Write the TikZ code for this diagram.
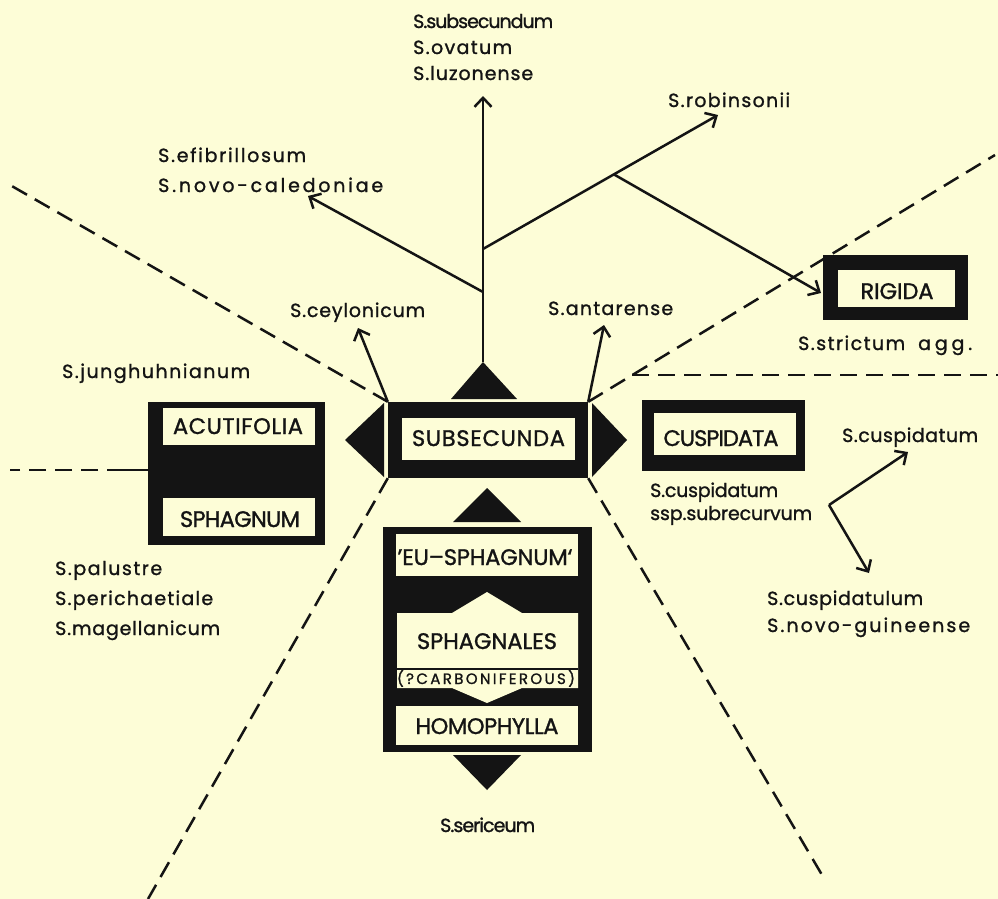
\documentclass[tikz,border=0pt]{standalone}
\usepackage{fontspec}
\setmainfont{Poppins}[FakeBold=1.2]
\usetikzlibrary{arrows.meta,calc}
\definecolor{bg}{HTML}{FDFDD7}
\definecolor{ink}{HTML}{141414}
\newlength\natw
\makeatletter
\newcommand\fit[3]{\settowidth\natw{#3}\pgfmathsetmacro\lsv{((#1)-\natw)/((#2)-1)/\f@size*100}\edef\tmpff{\noexpand\addfontfeatures{LetterSpace=\lsv}}{\tmpff#3}}
\makeatother
\tikzset{
  lab/.style={font=\fontsize{19}{21}\selectfont, inner sep=0pt, anchor=base west, text=ink},
  boxt/.style={font=\fontsize{22.5}{24}\selectfont, inner sep=0pt, anchor=base, text=ink},
  smallt/.style={font=\fontsize{15}{17}\selectfont, inner sep=0pt, anchor=base, text=ink},
  ln/.style={line width=2.5pt, draw=ink},
  arr/.style={line width=2.5pt, draw=ink, -{Straight Barb[length=9pt,width=17pt]}},
  dsh/.style={line width=2.5pt, draw=ink, dash pattern=on 17pt off 9pt},
  blk/.style={fill=ink, draw=none, inner sep=0pt},
  wht/.style={fill=bg, draw=none, inner sep=0pt},
}
\begin{document}
\begin{tikzpicture}[x=1pt,y=-1pt]
\useasboundingbox (0,0) rectangle (998,899);
\fill[bg] (0,0) rectangle (998,899);

% ---------- SUBSECUNDA ----------
\node[blk, minimum width=200pt, minimum height=76pt] (sub) at (488,440) {};
\node[wht, minimum width=173pt, minimum height=42pt] (subin) at (488.5,439) {};
\node[boxt] (subt) at (488.5,446) {\fit{153}{10}{SUBSECUNDA}};
\fill[ink] (345,440) -- (384,403) -- (384,477) -- cycle;
\fill[ink] (592,403) -- (627,440) -- (592,477) -- cycle;
\fill[ink] (451,399) -- (483,362) -- (517,399) -- cycle;
\fill[ink] (453,522) -- (487,488) -- (521,522) -- cycle;

% ---------- ACUTIFOLIA / SPHAGNUM ----------
\node[blk, minimum width=177pt, minimum height=143pt] (acu) at (236.5,473.5) {};
\node[wht, minimum width=152pt, minimum height=37pt] (acuin) at (239,426.5) {};
\node[wht, minimum width=152pt, minimum height=38pt] (sphin) at (239,517) {};
\node[boxt] (acut) at (238,434) {\fit{130}{10}{ACUTIFOLIA}};
\node[boxt] (spht) at (240,527) {\fit{120}{8}{SPHAGNUM}};

% ---------- CUSPIDATA ----------
\node[blk, minimum width=163pt, minimum height=71pt] (cus) at (723.5,435.5) {};
\node[wht, minimum width=142pt, minimum height=42pt] (cusin) at (725,434) {};
\node[boxt] (cust) at (721,446) {\fit{115}{9}{CUSPIDATA}};

% ---------- RIGIDA ----------
\node[blk, minimum width=145pt, minimum height=65pt] (rig) at (895.5,287.5) {};
\node[wht, minimum width=117pt, minimum height=37pt] (rigin) at (896.5,288.5) {};
\node[boxt] (rigt) at (897,299) {\fit{73}{6}{RIGIDA}};

% ---------- EU-SPHAGNUM block ----------
\node[blk, minimum width=209pt, minimum height=225pt] (eu) at (487.5,639.5) {};
\node[wht, minimum width=182pt, minimum height=42pt] (euin) at (487,555) {};
\fill[bg] (397,613) -- (452,613) -- (487,592) -- (522,613) -- (578,613) -- (578,688)
  -- (522,688) -- (487,703) -- (452,688) -- (397,688) -- cycle;
\draw[line width=1.5pt, draw=ink] (397,669) -- (578,669);
\node[wht, minimum width=182pt, minimum height=39pt] (homin) at (487,725.5) {};
\node[boxt] (eut) at (485,565) {\fit{175}{13}{'EU--SPHAGNUM`}};
\node[boxt] (sphalt) at (487,649) {\fit{140}{10}{SPHAGNALES}};
\node[smallt] (carbt) at (486,684) {\fit{178}{16}{(?CARBONIFEROUS)}};
\node[boxt] (homt) at (487,734) {\fit{143}{10}{HOMOPHYLLA}};
\fill[ink] (453,755) -- (487,790) -- (521,755) -- cycle;

% ---------- labels ----------
\node[lab] (subsec) at (413,28) {\fit{140}{13}{S.subsecundum}};
\node[lab] (ovat) at (413,54) {\fit{99}{8}{S.ovatum}};
\node[lab] (luzo) at (413,80) {\fit{120}{11}{S.luzonense}};
\node[lab] (robi) at (668,107) {\fit{122}{12}{S.robinsonii}};
\node[lab] (efib) at (158,162) {\fit{148}{14}{S.efibrillosum}};
\node[lab] (novc) at (158,192) {\fit{225}{17}{S.novo-caledoniae}};
\node[lab] (ceyl) at (290,317) {\fit{135}{12}{S.ceylonicum}};
\node[lab] (anta) at (548,315) {\fit{125}{11}{S.antarense}};
\node[lab] (jung) at (62,378) {\fit{188}{15}{S.junghuhnianum}};
\node[lab] (stri) at (798,350) {\fit{107}{10}{S.strictum}\hspace{13pt}\fit{54}{4}{agg.}};
\node[lab] (cusr) at (842,442) {\fit{136}{12}{S.cuspidatum}};
\node[lab] (cusl) at (650,497) {\fit{128}{12}{S.cuspidatum}};
\node[lab] (ssp) at (650,520) {\fit{162}{15}{ssp.subrecurvum}};
\node[lab] (cusp2) at (767,605) {\fit{156}{14}{S.cuspidatulum}};
\node[lab] (novg) at (767,632) {\fit{203}{16}{S.novo-guineense}};
\node[lab] (palu) at (55,575) {\fit{107}{10}{S.palustre}};
\node[lab] (peri) at (55,605) {\fit{158}{15}{S.perichaetiale}};
\node[lab] (mage) at (55,635) {\fit{165}{14}{S.magellanicum}};
\node[lab] (seri) at (440,832) {\fit{95}{10}{S.sericeum}};

% ---------- coordinates ----------
\coordinate (apex) at (483,362);
\coordinate (vtip) at (483,96);
\coordinate (jL) at (483,292);
\coordinate (jR) at (483,249);
\coordinate (robtip) at (718,115);
\coordinate (efitip) at (308,196);
\coordinate (jRR) at ($(jR)!0.557!(robtip)$);
\coordinate (rigtip) at (821,293);
\coordinate (ceytip) at (358,328);
\coordinate (antip) at (604,325);
\coordinate (cv) at (829,505);
\coordinate (cvt1) at (908,452);
\coordinate (cvt2) at (869,573);
\coordinate (ulend) at (10,185);
\coordinate (urend) at (995,155);
\coordinate (ujoin) at (632,375);
\coordinate (hend) at (998,375);
\coordinate (llend) at (148,899);
\coordinate (lrend) at (825,880);
\coordinate (acuw) at (148,470);
\coordinate (acus) at (124,470);
\coordinate (acud) at (10,470);

% ---------- connectors ----------
\draw[arr] (apex) -- (vtip);
\draw[arr] (jL) -- (efitip);
\draw[arr] (jR) -- (robtip);
\draw[arr] (jRR) -- (rigtip);
\draw[arr] (sub.north west) -- (ceytip);
\draw[arr] (sub.north east) -- (antip);
\draw[arr] (cv) -- (cvt1);
\draw[arr] (cv) -- (cvt2);

\draw[dsh] (sub.north west) -- (ulend);
\draw[dsh] (sub.north east) -- (urend);
\draw[dsh] (ujoin) -- (hend);
\draw[dsh] (sub.south west) -- (llend);
\draw[dsh] (sub.south east) -- (lrend);
\draw[ln] (acuw) -- (acus);
\draw[dsh] (acus) -- (acud);
\end{tikzpicture}
\end{document}
